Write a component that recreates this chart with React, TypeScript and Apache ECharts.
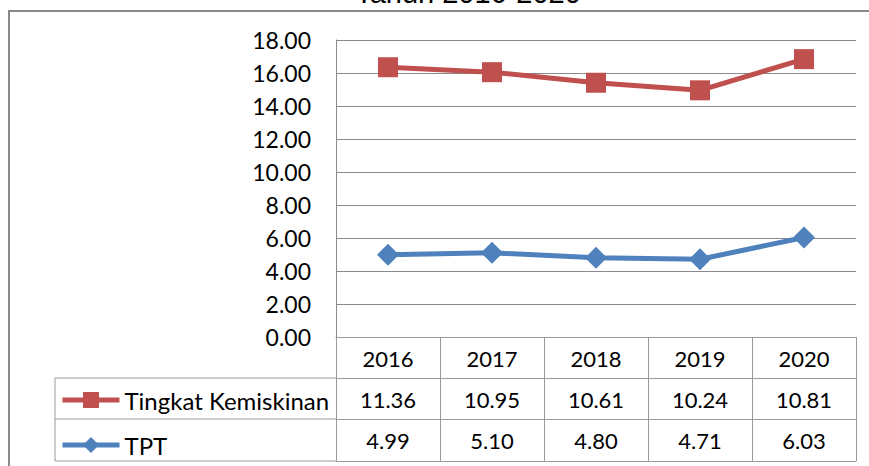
import React, { useEffect, useRef } from "react";
import * as echarts from "echarts";

const title = "Tahun 2016-2020";
const years = ["2016", "2017", "2018", "2019", "2020"];
const kemiskinan = [11.36, 10.95, 10.61, 10.24, 10.81];
const tpt = [4.99, 5.1, 4.8, 4.71, 6.03];
const yMin = 0;
const yMax = 18;
const yInterval = 2;

export default function App() {
  const ref = useRef<HTMLDivElement>(null);
  useEffect(() => {
    const chart = echarts.init(ref.current!, null, { renderer: "svg" });
    const font = "Lato";
    const gridColor = "#8a8a8a";
    const tableColor = "#9a9a9a";
    const tableAxis = (offset: number, values: number[] | null, showLabel: boolean, tickLen: number) => ({
      type: "category",
      data: years,
      position: "bottom",
      offset,
      boundaryGap: true,
      axisLine: { show: true, lineStyle: { color: tableColor, width: 1 } },
      axisTick: { show: tickLen > 0, interval: 0, length: tickLen, lineStyle: { color: tableColor, width: 1 } },
      axisLabel: {
        show: showLabel,
        interval: 0,
        margin: 10,
        fontFamily: font,
        fontSize: 22,
        color: "#000",
        formatter: (v: string, i: number) => (values ? values[i].toFixed(2) : v),
      },
      splitLine: { show: false },
    });
    chart.setOption({
      animation: false,
      backgroundColor: "#fff",
      grid: { left: 336, right: 13, top: 40, bottom: 129 },
      xAxis: [
        tableAxis(0, null, true, 41),
        tableAxis(41, kemiskinan, true, 41),
        tableAxis(82, tpt, true, 42),
        tableAxis(124, null, false, 0),
      ],
      yAxis: {
        type: "value",
        min: yMin,
        max: yMax,
        interval: yInterval,
        axisLine: { show: true, lineStyle: { color: gridColor, width: 1 } },
        axisTick: { show: false },
        splitLine: { show: true, lineStyle: { color: gridColor, width: 1 } },
        axisLabel: {
          margin: 25,
          fontFamily: font,
          fontSize: 23,
          color: "#000",
          formatter: (v: number) => v.toFixed(2),
        },
      },
      legend: {
        data: ["Tingkat Kemiskinan", "TPT"],
        orient: "vertical",
        left: 55,
        top: 383,
        padding: 5,
        itemWidth: 57,
        itemHeight: 20,
        itemGap: 21,
        lineStyle: { width: 5 },
        textStyle: { fontFamily: font, fontSize: 24, color: "#000" },
      },
      graphic: [
        {
          type: "rect",
          shape: { x: 9, y: 11, width: 1000, height: 600 },
          style: { fill: "none", stroke: "#8a8a8a", lineWidth: 2 },
          silent: true,
        },
        {
          type: "polyline",
          shape: { points: [[336, 378], [55, 378], [55, 461], [336, 461]] },
          style: { fill: "none", stroke: tableColor, lineWidth: 1 },
          silent: true,
        },
        {
          type: "line",
          shape: { x1: 55, y1: 419, x2: 336, y2: 419 },
          style: { stroke: tableColor, lineWidth: 1 },
          silent: true,
        },
        {
          type: "text",
          x: 468,
          y: 7,
          style: {
            text: title,
            fontFamily: "Liberation Sans",
            fontSize: 29,
            fill: "#000",
            align: "center",
            verticalAlign: "bottom",
          },
          silent: true,
        },
      ],
      series: [
        {
          name: "TPT",
          type: "line",
          stack: "total",
          data: tpt,
          symbol: "diamond",
          symbolSize: 22,
          color: "#4F81BD",
          lineStyle: { width: 5, color: "#4F81BD" },
          itemStyle: { color: "#4F81BD" },
        },
        {
          name: "Tingkat Kemiskinan",
          type: "line",
          stack: "total",
          data: kemiskinan,
          symbol: "rect",
          symbolSize: 20,
          color: "#C0504D",
          lineStyle: { width: 5, color: "#C0504D" },
          itemStyle: { color: "#C0504D" },
        },
      ],
    });
    return () => chart.dispose();
  }, []);
  return <div ref={ref} style={{ width: 869, height: 466, position: "absolute", left: 0, top: 0 }} />;
}
